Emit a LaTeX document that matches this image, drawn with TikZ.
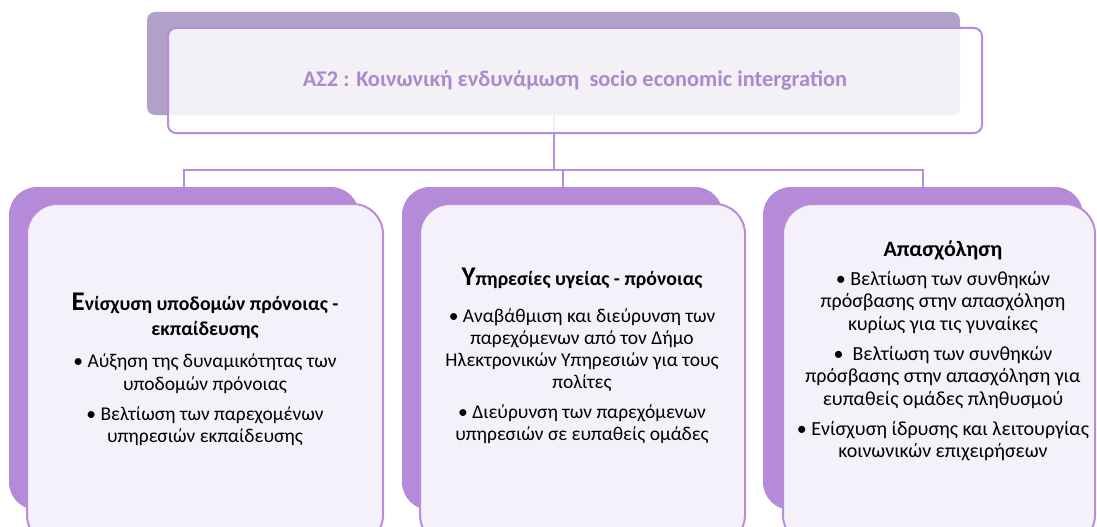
\documentclass[tikz,border=0pt]{standalone}
\usepackage{fontspec}
\setmainfont{Carlito}
\usetikzlibrary{positioning}

\definecolor{hdrback}{HTML}{B1A0C8}
\definecolor{lilac}{HTML}{B48AD9}
\definecolor{lilacline}{HTML}{B98BDB}
\definecolor{paper}{HTML}{F5F1FA}
\definecolor{hdrtext}{HTML}{A88BC8}

\newcommand{\initcap}[1]{{\fontsize{27}{24}\selectfont #1}}

\begin{document}
\begin{tikzpicture}[x=1pt,y=-1pt,
  backbox/.style={fill=lilac,rounded corners=28pt,inner sep=0pt},
  frontbox/.style={draw=lilacline,line width=2pt,fill=paper,rounded corners=30pt,inner sep=0pt},
  link/.style={draw=lilacline,line width=2pt},
  title/.style={font=\bfseries\fontsize{19.8}{25}\selectfont,align=center},
  body/.style={font=\fontsize{19.5}{22.7}\selectfont,align=center}]

  \useasboundingbox (0,0) rectangle (1097,527);
  \clip (0,0) rectangle (1097,527);

  % header
  \node[fill=hdrback,rounded corners=8pt,minimum width=813pt,minimum height=103pt] (hback) at (553.5,63.5) {};

  % back boxes
  \node[backbox,minimum width=350pt,minimum height=323pt] (lback) at (184,348.5) {};
  \node[backbox,minimum width=321pt,minimum height=323pt] (mback) at (562.5,348.5) {};
  \node[backbox,minimum width=320pt,minimum height=323pt] (rback) at (923,348.5) {};

  % connectors
  \coordinate (bus) at (553.5,170);
  \draw[link] (hback.south) -- (bus);
  \draw[link] (lback.north) |- (bus) -| (rback.north);
  \draw[link] (mback.north) -- (mback.north |- bus);

  % front boxes
  \node[draw=lilacline,line width=2pt,fill=white,fill opacity=.85,rounded corners=8pt,
        minimum width=814pt,minimum height=105pt] (hfront) at (575,80.5) {};
  \node[frontbox,minimum width=356pt,minimum height=341pt] (lfront) at (205,374.5) {};
  \node[frontbox,minimum width=325pt,minimum height=341pt] (mfront) at (582.5,374.5) {};
  \node[frontbox,minimum width=312pt,minimum height=341pt] (rfront) at (939,374.5) {};

  % texts
  \node[font=\bfseries\fontsize{22.4}{26}\selectfont,text=hdrtext] (htext) at (hfront.center)
    {ΑΣ2 : Κοινωνική ενδυνάμωση~ socio economic intergration};

  \node[title] (ltitle) at (205,315.5) {\initcap{Ε}νίσχυση υποδομών πρόνοιας -\\εκπαίδευσης};
  \node[body] (lbody) at (205,400) {• Αύξηση της δυναμικότητας των\\υποδομών πρόνοιας\\[7pt]• Βελτίωση των παρεχομένων\\υπηρεσιών εκπαίδευσης};

  \node[title] (mtitle) at (582,278) {\initcap{Υ}πηρεσίες υγείας - πρόνοιας};
  \node[body,font=\fontsize{19.5}{22}\selectfont] (mbody) at (582,376.5) {• Αναβάθμιση και διεύρυνση των\\παρεχόμενων από τον Δήμο\\Ηλεκτρονικών Υπηρεσιών για τους\\πολίτες\\[8pt]• Διεύρυνση των παρεχόμενων\\υπηρεσιών σε ευπαθείς ομάδες};

  \node[title,font=\bfseries\fontsize{22}{24}\selectfont] (rtitle) at (943,250) {Απασχόληση};
  \node[body,font=\fontsize{20}{22.5}\selectfont] (rbody) at (943,366) {• Βελτίωση των συνθηκών\\πρόσβασης στην απασχόληση\\κυρίως για τις γυναίκες\\[7.5pt]•~ Βελτίωση των συνθηκών\\πρόσβασης στην απασχόληση για\\ευπαθείς ομάδες πληθυσμού\\[7.5pt]• Ενίσχυση ίδρυσης και λειτουργίας\\κοινωνικών επιχειρήσεων};
\end{tikzpicture}
\end{document}
